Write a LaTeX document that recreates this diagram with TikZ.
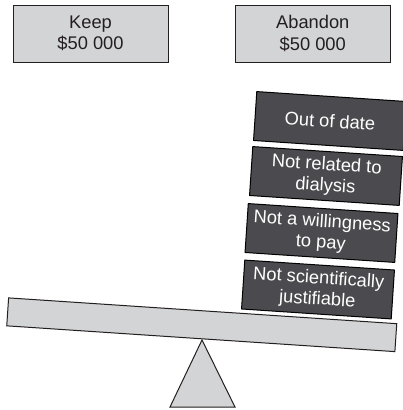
\documentclass[tikz,border=0pt]{standalone}
\usepackage{fontspec}
\setmainfont{Liberation Sans}
\definecolor{lightfill}{HTML}{D3D4D6}
\definecolor{darkfill}{HTML}{4B4B4F}
\definecolor{edge}{HTML}{231F20}
\begin{document}
\begin{tikzpicture}[x=1pt,y=-1pt,
  topbox/.style={draw=edge, fill=lightfill, line width=1pt, minimum width=155pt, minimum height=57pt, inner sep=0pt, align=center, font=\fontsize{18.3}{21.5}\selectfont, text=edge},
  reason/.style={draw=black, fill=darkfill, line width=1pt, minimum width=150pt, minimum height=49pt, inner sep=0pt, align=center, font=\fontsize{18.3}{21}\selectfont, text=white, rotate=-3.8},
  beamstyle/.style={draw=edge, fill=lightfill, line width=1pt, minimum width=389pt, minimum height=28pt, inner sep=0pt, rotate=-3.8}]
\clip (0,0) rectangle (403,410);
\fill[white] (0,0) rectangle (403,410);
\node[topbox] (keep) at (90.5,33.5) {Keep\\\$50 000};
\node[topbox] (abandon) at (312.8,33.5) {Abandon\\\$50 000};
\filldraw[draw=edge, fill=lightfill, line width=1pt] (202,340) -- (170,407) -- (235,407) -- cycle;
\node[beamstyle] (beam) at (201.75,324.75) {};
\node[reason] (r4) at (318,289.5) {Not scientifically\\justifiable};
\node[reason] (r3) at (321.5,233) {Not a willingness\\to pay};
\node[reason] (r2) at (326,176) {Not related to\\dialysis};
\node[reason] (r1) at (330,121) {Out of date};
\end{tikzpicture}
\end{document}
